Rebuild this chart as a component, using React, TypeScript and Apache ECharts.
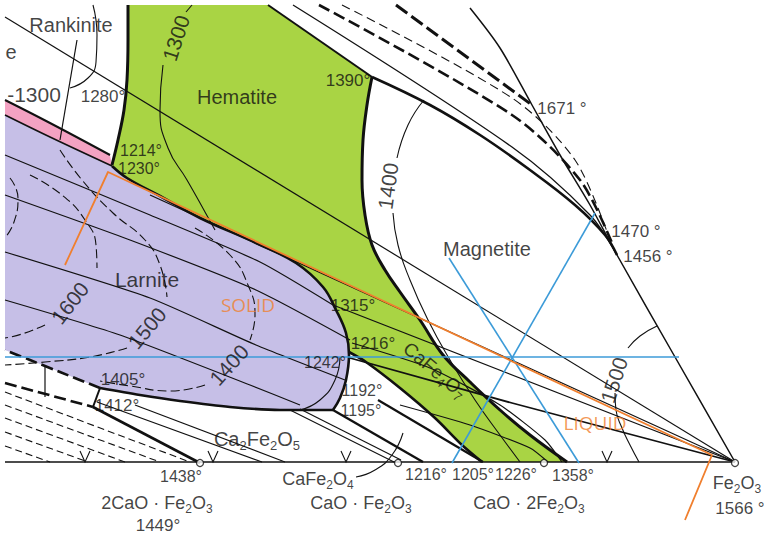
import React, { useEffect, useRef } from 'react';
import * as echarts from 'echarts';

type Pt = [number, number];

// ---- filled phase fields (diagram coordinates) ----
const hematiteRegion: Pt[] = [[128,5],[268,5],[372,77],[367,105],[363,140],[362,180],[365,215],[372,245],[385,270],[400,292],[420,320],[443,355],[470,382],[500,410],[530,435],[567,462],[482,462],[462,445],[435,418],[400,388],[366,362],[349,352],[346,333],[336,310],[323,287],[296,263],[256,243],[200,218],[160,196],[127,178],[112,165],[118,140],[124,110],[127,80],[128,40]];
const larniteRegion: Pt[] = [[5,115],[50,137],[112,166],[127,178],[160,196],[200,218],[256,243],[296,263],[323,287],[336,310],[346,333],[349,355],[346,380],[340,398],[333,410],[280,410],[230,407],[180,401],[140,395],[100,388],[60,372],[30,360],[5,350]];
const pinkBand: Pt[] = [[5,100],[50,123],[110,155],[112,166],[50,137],[5,115]];

// ---- boundary curves ----
const hemLeftEdge: Pt[] = [[128,5],[128,40],[127,80],[124,110],[118,140],[112,165]];
const pinkTopEdge: Pt[] = [[5,100],[50,123],[110,155]];
const pinkBottomEdge: Pt[] = [[5,115],[50,137],[112,166]];
const larniteTopEdge: Pt[] = [[112,166],[127,178],[160,196],[200,218],[256,243],[296,263],[323,287],[336,310],[346,333],[349,355],[346,380],[340,398],[333,410]];
const larniteBottomEdge: Pt[] = [[333,410],[280,410],[230,407],[180,401],[140,395],[100,388]];
const larniteBottomDashed: Pt[] = [[100,388],[60,372],[30,360],[5,350]];
const hemTopEdge: Pt[] = [[268,5],[372,77]];
const hemRightEdge: Pt[] = [[372,77],[367,105],[363,140],[362,180],[365,215],[372,245],[385,270],[400,292],[420,320],[443,355],[470,382],[500,410],[530,435],[567,462]];
const cf4LowerEdge: Pt[] = [[349,352],[366,362],[400,388],[435,418],[462,445],[482,462]];
const liquidus1390: Pt[] = [[372,77],[430,105],[480,135],[530,170],[575,205],[605,235],[617,255]];
const outerEdge: Pt[] = [[470,8],[500,48],[532,105],[560,155],[590,205],[617,255],[675,357],[735,462]];
const baseLine: Pt[] = [[5,462],[735,462]];

const band1: Pt[] = [[293,5],[512,147],[590,215],[617,255]];
const band2: Pt[] = [[319,5],[512,115],[580,180],[612,243]];
const band3: Pt[] = [[342,5],[512,98],[575,160],[610,240]];
const band4: Pt[] = [[396,5],[532,105]];

// ---- isotherms ----
const rank1300: Pt[] = [[93,5],[97,35],[96,62],[88,78],[70,88]];
const rankVert: Pt[] = [[77,40],[60,140]];
const hem1300Top: Pt[] = [[192,5],[186,12]];
const hem1300: Pt[] = [[163,65],[160,110],[168,148],[187,180],[205,212],[215,230]];
const mag1400Top: Pt[] = [[424,100],[408,125],[397,158]];
const mag1400: Pt[] = [[393,213],[398,245],[410,280],[428,320],[450,360],[475,400],[500,435],[520,462]];
const fe1500Top: Pt[] = [[657,326],[640,336],[628,348]];
const fe1500: Pt[] = [[615,393],[616,410],[622,428],[630,445],[639,462]];
const lar1700: Pt[] = [[10,178],[18,198],[14,222],[5,238]];
const lar1600Top: Pt[] = [[30,175],[62,195],[85,220],[96,245],[97,268]];
const lar1600Bot: Pt[] = [[45,325],[22,334],[5,338]];
const lar1500Top: Pt[] = [[60,150],[82,180],[113,213],[145,240],[160,265],[167,297]];
const lar1500Bot: Pt[] = [[127,348],[90,357],[45,362],[5,365]];
const lar1400Top: Pt[] = [[195,228],[230,255],[248,285],[255,315],[250,340]];
const lar1400Bot: Pt[] = [[205,385],[170,391],[130,386],[100,381]];
const arc1242: Pt[] = [[340,357],[335,380],[320,400],[300,410]];

// ---- tie lines ----
const rankTie: Pt[] = [[5,17],[735,462]];
const tieB: Pt[] = [[5,155],[150,215],[260,262],[333,305]];
const tieC: Pt[] = [[5,195],[130,240],[256,290],[350,340]];
const tieD: Pt[] = [[5,252],[150,298],[256,345],[345,380]];
const tieE: Pt[] = [[5,300],[120,335],[250,385],[300,405]];
const feTie1: Pt[] = [[333,305],[735,462]];
const feTie2: Pt[] = [[350,358],[512,403],[735,462]];
const feTie3: Pt[] = [[150,195],[735,462]];
const gb1: Pt[] = [[352,343],[430,368],[500,405],[545,440],[562,462]];
const gb2: Pt[] = [[400,405],[470,425],[530,448],[548,462]];
const dl1: Pt[] = [[5,392],[190,462]];
const dl2: Pt[] = [[5,405],[160,462]];
const dl3: Pt[] = [[5,418],[125,462]];
const dl4: Pt[] = [[5,432],[88,462]];
const dl5: Pt[] = [[5,446],[50,462]];
const heavy1412: Pt[] = [[93,407],[200,463]];
const heavyDash1412: Pt[] = [[5,383],[93,407]];
const link1405: Pt[] = [[100,388],[93,407]];
const vert1405: Pt[] = [[45,367],[45,397]];
const tie1412a: Pt[] = [[97,402],[262,462]];
const tie1412b: Pt[] = [[135,405],[285,462]];
const cf2a: Pt[] = [[290,410],[396,463]];
const cf2b: Pt[] = [[300,409],[401,460]];
const heavyH1: Pt[] = [[333,410],[423,462]];
const heavyH2: Pt[] = [[378,400],[483,462]];
const leaderCF2: Pt[] = [[356,477],[375,470],[392,455],[403,433]];

// ---- construction lines ----
const blueH: Pt[] = [[5,357],[679,357]];
const blueA: Pt[] = [[449,258],[579,463]];
const blueB: Pt[] = [[595,213],[452,463]];
const orangeTie: Pt[] = [[65,265],[108,172],[712,455],[685,520]];

// ---- compounds / invariant points ----
const compoundPoints: Pt[] = [[200,463],[398,463],[544,463],[735,463]];
const vMarkX: number[] = [85, 213, 346, 607];

// ---- texts: [text, x, y, size, angle] ----
const labelTexts: [string, number, number, number, number][] = [
  ['Rankinite', 71, 25, 20, 0],
  ['e', 11, 52, 20, 0],
  ['-1300', 34, 94, 21, 0],
  ['1280°', 103, 96, 17, 0],
  ['Hematite', 237, 97, 20, 0],
  ['1300', 176, 38, 21, 72],
  ['1390°', 348, 80, 17, 0],
  ['1671 °', 562, 108, 17, 0],
  ['1214°', 141, 150, 16, 0],
  ['1230°', 139, 168, 16, 0],
  ['1400', 388, 186, 21, 82],
  ['Magnetite', 487, 249, 20, 0],
  ['1470 °', 636, 231, 17, 0],
  ['1456 °', 648, 256, 17, 0],
  ['Larnite', 147, 279, 21, 0],
  ['1600', 70, 303, 21, 52],
  ['1500', 147, 328, 21, 50],
  ['1400', 229, 365, 21, 48],
  ['1315°', 353, 305, 17, 0],
  ['1216°', 373, 343, 17, 0],
  ['{n|CaFe}{s|4}{n|O}{s|7}', 435, 370, 19, -40],
  ['1242°', 325, 362, 16, 0],
  ['1192°', 362, 390, 16, 0],
  ['1195°', 361, 410, 16, 0],
  ['1405°', 123, 379, 17, 0],
  ['1412°', 117, 405, 17, 0],
  ['{n|Ca}{s|2}{n|Fe}{s|2}{n|O}{s|5}', 257, 439, 20, 0],
  ['1500', 614, 380, 21, 72],
  ['1438°', 181, 476, 16, 0],
  ['{n|2CaO · Fe}{s|2}{n|O}{s|3}', 157, 503, 18, 0],
  ['1449°', 158, 525, 17, 0],
  ['{n|CaFe}{s|2}{n|O}{s|4}', 318, 479, 18, 0],
  ['{n|CaO · Fe}{s|2}{n|O}{s|3}', 361, 503, 18, 0],
  ['1216°', 426, 474, 16, 0],
  ['1205°', 473, 474, 16, 0],
  ['1226°', 516, 474, 16, 0],
  ['1358°', 573, 475, 16, 0],
  ['{n|CaO · 2Fe}{s|2}{n|O}{s|3}', 529, 503, 18, 0],
  ['{n|Fe}{s|2}{n|O}{s|3}', 737, 483, 18, 0],
  ['1566 °', 740, 508, 17, 0],
];
const orangeTexts: [string, number, number][] = [['SOLID', 248, 305], ['LIQUID', 595, 423]];

const FONT = '"Liberation Sans", Arial, sans-serif';
const INK = '#111111';
const GREEN = '#A9D444';
const PURPLE = '#C6BFE7';
const PINK = '#F3A2C2';
const BLUE = '#3C9BD8';
const ORANGE = '#F07F2E';

export default function App() {
  const ref = useRef<HTMLDivElement>(null);
  useEffect(() => {
    const chart = echarts.init(ref.current as HTMLDivElement, null, { renderer: 'svg' });
    const series: any[] = [];
    const poly = (pts: Pt[], fill: string) =>
      series.push({
        type: 'custom', coordinateSystem: 'cartesian2d', silent: true, z: 1, data: [[0, 0]],
        renderItem: (_p: any, api: any) => ({
          type: 'polygon', shape: { points: pts.map((q) => api.coord(q)) }, style: { fill, stroke: 'none' },
        }),
      });
    const line = (pts: Pt[], width: number, color = INK, dash: any = 'solid', smooth: number = 0, z = 3) =>
      series.push({
        type: 'line', data: pts, symbol: 'none', silent: true, smooth, z,
        lineStyle: { width, color, type: dash, cap: 'butt', join: 'round' },
      });

    poly(hematiteRegion, GREEN);
    poly(larniteRegion, PURPLE);
    poly(pinkBand, PINK);

    // thin tie lines
    [tieB, tieC, tieD, tieE, feTie1, feTie3, gb1, gb2, tie1412a, tie1412b, cf2a, cf2b, rankTie, rankVert, vert1405].forEach((l) => line(l, 1.2, INK, 'solid', 0.2));
    line(feTie2, 1.8);
    [dl1, dl2, dl3, dl4, dl5].forEach((l) => line(l, 1.1, INK, [7, 4]));
    // isotherms
    [rank1300, hem1300Top, hem1300, mag1400Top, mag1400, fe1500Top, fe1500, arc1242, leaderCF2].forEach((l) => line(l, 1.1, INK, 'solid', 0.5));
    [lar1700, lar1600Top, lar1600Bot, lar1500Top, lar1500Bot, lar1400Top, lar1400Bot].forEach((l) => line(l, 1.1, INK, [9, 4], 0.5));
    // band
    line(band1, 1.3, INK, 'solid', 0.3);
    line(band2, 2.6, INK, [12, 5], 0.3);
    line(band3, 1.1, INK, [9, 5], 0.3);
    line(band4, 3, INK, [14, 5]);
    // heavy boundaries
    line(hemLeftEdge, 3, INK, 'solid', 0.4);
    line(pinkTopEdge, 2, INK, 'solid', 0.4);
    line(pinkBottomEdge, 1.6, INK, 'solid', 0.4);
    line(larniteTopEdge, 2.6, INK, 'solid', 0.4);
    line(larniteBottomEdge, 2.6, INK, 'solid', 0.3);
    line(larniteBottomDashed, 2.6, INK, [12, 5], 0.3);
    line(hemTopEdge, 2);
    line(hemRightEdge, 3, INK, 'solid', 0.4);
    line(cf4LowerEdge, 2.6, INK, 'solid', 0.3);
    line(liquidus1390, 2.6, INK, 'solid', 0.4);
    line(outerEdge, 1.5, INK, 'solid', 0.3);
    line(baseLine, 1.6);
    line(heavy1412, 2.6);
    line(heavyDash1412, 2.6, INK, [12, 5]);
    line(link1405, 2);
    line(heavyH1, 2.4);
    line(heavyH2, 2.2);
    // construction lines
    line(blueH, 1.6, BLUE, 'solid', 0, 4);
    line(blueA, 1.6, BLUE, 'solid', 0, 4);
    line(blueB, 1.6, BLUE, 'solid', 0, 4);
    line(orangeTie, 1.8, ORANGE, 'solid', 0, 4);

    // V marks on the base line
    series.push({
      type: 'custom', coordinateSystem: 'cartesian2d', silent: true, z: 4,
      data: vMarkX.map((x) => [x, 462]),
      renderItem: (_p: any, api: any) => {
        const x = api.value(0), y = api.value(1);
        return {
          type: 'polyline',
          shape: { points: [api.coord([x - 5, y - 11]), api.coord([x, y]), api.coord([x + 5, y - 11])] },
          style: { stroke: INK, lineWidth: 1.1, fill: 'none' },
        };
      },
    });
    // compound points
    series.push({
      type: 'scatter', data: compoundPoints, symbol: 'circle', symbolSize: 7, silent: true, z: 5,
      itemStyle: { color: '#fff', borderColor: INK, borderWidth: 1.3 },
    });

    const rich = (fs: number) => ({
      n: { fontSize: fs, fontFamily: FONT, color: INK, lineHeight: fs + 6, verticalAlign: 'middle' },
      s: { fontSize: Math.round(fs * 0.66), fontFamily: FONT, color: INK, lineHeight: Math.round(fs * 0.66), verticalAlign: 'bottom' },
    });
    series.push({
      type: 'scatter', symbolSize: 1, silent: true, z: 6, itemStyle: { color: 'rgba(0,0,0,0)' },
      label: { show: true, position: 'inside', align: 'center', verticalAlign: 'middle', fontFamily: FONT, color: INK },
      data: labelTexts.map(([t, x, y, fs, r]) => ({
        value: [x, y],
        label: { formatter: t, fontSize: fs, rotate: r, rich: rich(fs) },
      })),
    });
    series.push({
      type: 'scatter', symbolSize: 1, silent: true, z: 6, itemStyle: { color: 'rgba(0,0,0,0)' },
      label: { show: true, position: 'inside', align: 'center', verticalAlign: 'middle', fontFamily: '"Open Sans", sans-serif', fontSize: 19, color: ORANGE },
      data: orangeTexts.map(([t, x, y]) => ({ value: [x, y], label: { formatter: t } })),
    });

    chart.setOption({
      animation: false,
      backgroundColor: '#ffffff',
      grid: { left: 0, right: 0, top: 0, bottom: 0 },
      xAxis: { type: 'value', min: 0, max: 768, show: false },
      yAxis: { type: 'value', min: 0, max: 536, inverse: true, show: false },
      series,
    });
    return () => chart.dispose();
  }, []);
  return <div ref={ref} style={{ position: 'absolute', left: 0, top: 0, width: 768, height: 536, background: '#fff' }} />;
}
